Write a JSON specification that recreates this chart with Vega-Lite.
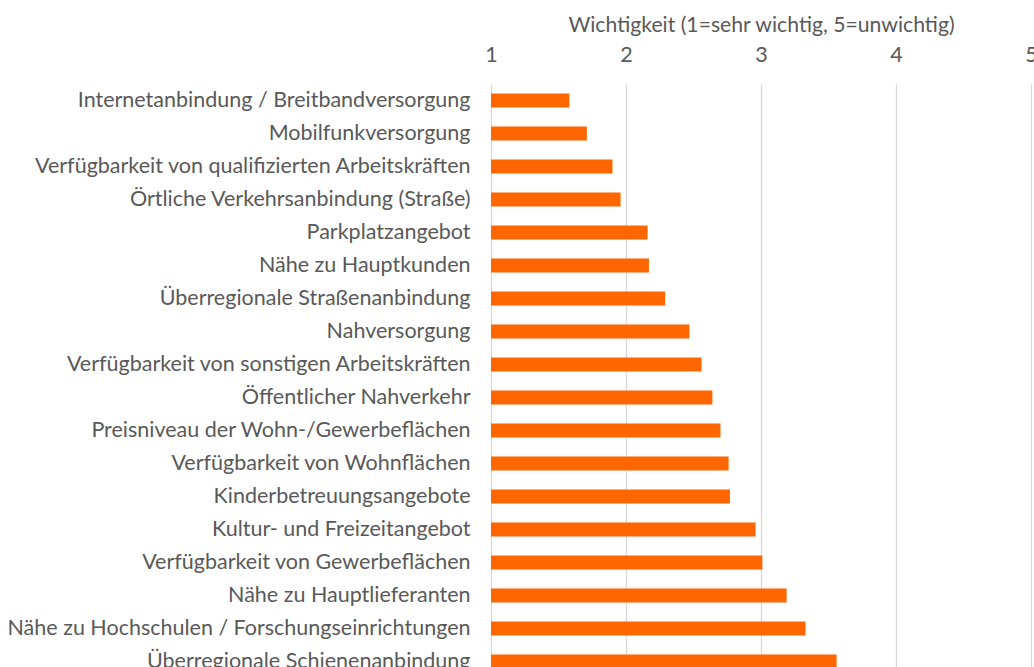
{
  "$schema": "https://vega.github.io/schema/vega-lite/v6.json",
  "autosize": "none",
  "padding": {"left": 491, "top": 84, "right": 3, "bottom": 0},
  "width": 540,
  "height": 594,
  "background": "white",
  "config": {"view": {"stroke": null}, "font": "Lato"},
  "data": {"values": [
    {"k": "Internetanbindung / Breitbandversorgung", "v": 1.58},
    {"k": "Mobilfunkversorgung", "v": 1.71},
    {"k": "Verfügbarkeit von qualifizierten Arbeitskräften", "v": 1.90},
    {"k": "Örtliche Verkehrsanbindung (Straße)", "v": 1.96},
    {"k": "Parkplatzangebot", "v": 2.16},
    {"k": "Nähe zu Hauptkunden", "v": 2.17},
    {"k": "Überregionale Straßenanbindung", "v": 2.29},
    {"k": "Nahversorgung", "v": 2.47},
    {"k": "Verfügbarkeit von sonstigen Arbeitskräften", "v": 2.56},
    {"k": "Öffentlicher Nahverkehr", "v": 2.64},
    {"k": "Preisniveau der Wohn-/Gewerbeflächen", "v": 2.70},
    {"k": "Verfügbarkeit von Wohnflächen", "v": 2.76},
    {"k": "Kinderbetreuungsangebote", "v": 2.77},
    {"k": "Kultur- und Freizeitangebot", "v": 2.96},
    {"k": "Verfügbarkeit von Gewerbeflächen", "v": 3.01},
    {"k": "Nähe zu Hauptlieferanten", "v": 3.19},
    {"k": "Nähe zu Hochschulen / Forschungseinrichtungen", "v": 3.33},
    {"k": "Überregionale Schienenanbindung", "v": 3.56}
  ]},
  "mark": {"type": "bar", "color": "#FF6600", "height": 14},
  "encoding": {
    "y": {"field": "k", "type": "nominal", "sort": null,
      "axis": {"title": null, "domain": false, "ticks": false, "labelFontSize": 21.5, "labelColor": "#595959", "labelPadding": 21, "labelLimit": 600}},
    "x": {"field": "v", "type": "quantitative",
      "scale": {"domain": [1, 5], "nice": false, "zero": false},
      "axis": {"orient": "top", "title": "Wichtigkeit (1=sehr wichtig, 5=unwichtig)", "titleFontSize": 21.2, "titleFontWeight": "normal", "titleColor": "#595959", "titlePadding": 9,
        "values": [1, 2, 3, 4, 5], "labelFontSize": 21.5, "labelColor": "#595959", "labelPadding": 18, "domain": false, "ticks": false,
        "grid": true, "gridColor": "#D9D9D9", "gridWidth": 1.3, "labelFlush": false}},
    "x2": {"datum": 1}
  }
}
